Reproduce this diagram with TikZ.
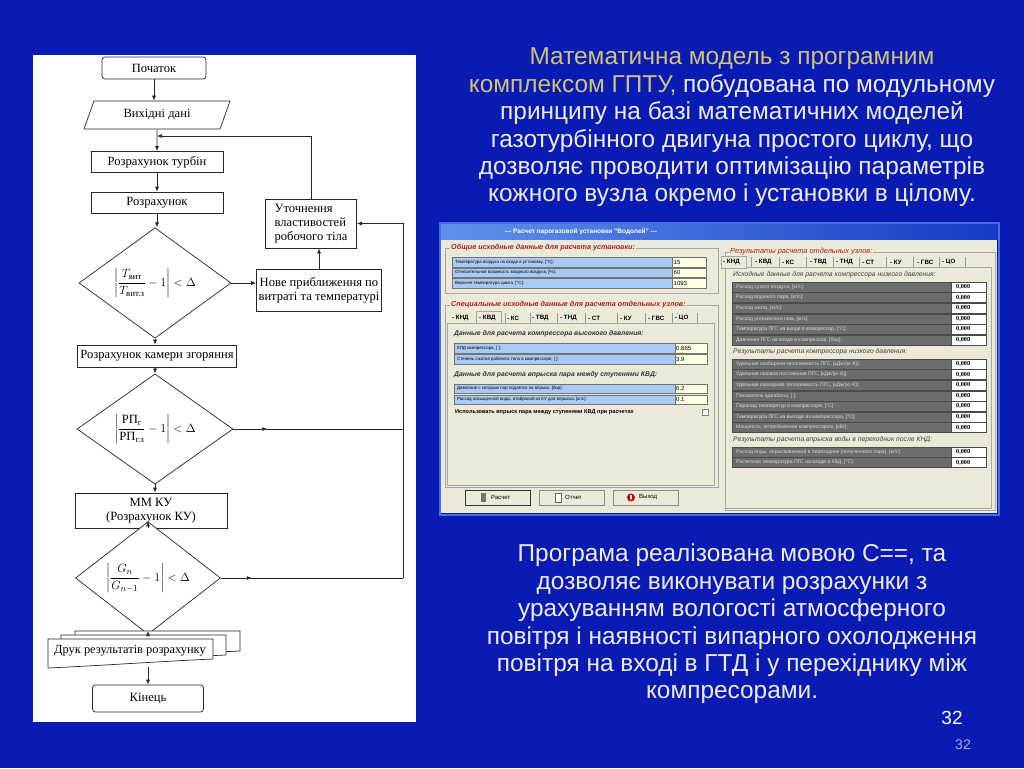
\documentclass[tikz,border=0pt]{standalone}
\usepackage{amsmath}
\usepackage{fontspec}
\setmainfont{Liberation Sans}
\newfontfamily\tms{Liberation Serif}
\usetikzlibrary{arrows.meta, shapes.geometric, calc, decorations.markings, positioning}

\definecolor{slidebg}{RGB}{9,27,179}
\definecolor{khaki}{RGB}{206,196,120}
\definecolor{txtgrey}{RGB}{236,236,236}
\definecolor{pgfoot}{RGB}{165,175,228}
\definecolor{winbeige}{RGB}{236,233,216}
\definecolor{winblueL}{RGB}{96,146,236}
\definecolor{winblueD}{RGB}{22,58,196}
\definecolor{winframe}{RGB}{70,110,222}
\definecolor{lblblue}{RGB}{168,202,245}
\definecolor{valyel}{RGB}{255,255,228}
\definecolor{rowgrey}{RGB}{108,108,108}
\definecolor{rowtxt}{RGB}{218,218,218}
\definecolor{capred}{RGB}{165,32,32}

\begin{document}
\begin{tikzpicture}[x=1pt, y=-1pt,
  >={Latex[length=5pt,width=4pt]},
  flow/.style={line width=0.7pt, draw=black!85},
  blk/.style={flow, fill=white, inner sep=2pt,
    font=\tms\fontsize{12.6}{13.8}\selectfont},
  term/.style={blk, rounded corners=3pt},
  io/.style={blk, trapezium, trapezium left angle=56, trapezium right angle=124,
    trapezium stretches body},
  dec/.style={blk, diamond, inner sep=0pt},
  midarr/.style={postaction={decorate, decoration={markings,
    mark=at position #1 with {\arrow{Latex[length=5pt,width=4pt]}}}}},
  slidetxt/.style={align=center, text=txtgrey, font=\fontsize{24.4}{27.4}\selectfont},
  grpline/.style={draw=black!35, line width=0.5pt},
  grptitle/.style={fill=winbeige, inner sep=1pt, anchor=west, text=capred,
    font=\bfseries\itshape\fontsize{7.2}{8}\selectfont},
  subttl/.style={inner sep=0pt, anchor=west, text=black!80,
    font=\bfseries\itshape\fontsize{6.8}{8}\selectfont},
  subttlr/.style={inner sep=0pt, anchor=west, text=black!75,
    font=\itshape\fontsize{6.8}{8}\selectfont},
  cellline/.style={draw=black!55, line width=0.4pt},
  celltxt/.style={inner sep=0pt, anchor=west, font=\fontsize{4.4}{5}\selectfont},
  valtxt/.style={inner sep=0pt, anchor=west, font=\fontsize{6}{7}\selectfont},
  rowlbl/.style={inner sep=0pt, anchor=west, text=rowtxt, font=\fontsize{5.1}{6}\selectfont},
  rowval/.style={inner sep=0pt, anchor=west, font=\tms\bfseries\fontsize{6.2}{7}\selectfont},
  tabtxt/.style={inner sep=0pt, anchor=west, font=\bfseries\fontsize{6.2}{7}\selectfont},
  btntxt/.style={inner sep=0pt, anchor=west, font=\fontsize{6}{7}\selectfont},
]
  % slide
  \fill[slidebg] (0,0) rectangle (1024,768);
  \useasboundingbox (0,0) rectangle (1024,768);
  \fill[white] (33,55) rectangle (416,722);

  % flowchart
  \node[term, minimum width=104, minimum height=22] (start) at (154,68) {Початок};
  \node[io, minimum width=146, minimum height=28] (input) at (157,115) {Вихідні дані};
  \node[blk, minimum width=132, minimum height=21] (turb) at (157,162) {Розрахунок турбін};
  \node[blk, minimum width=132, minimum height=21] (calc) at (157,202.5) {Розрахунок};
  \node[dec, minimum width=152, minimum height=83] (chkT) at (155,283)
    {$\left|\dfrac{T_{\text{вит}}}{T_{\text{вит.з}}}-1\right|<\Delta$};
  \node[blk, minimum width=91, minimum height=49, align=left] (refine) at (311,223.5)
    {Уточнення\\властивостей\\робочого тіла};
  \node[blk, minimum width=122, minimum height=42, align=center] (newappr) at (319,290)
    {Нове приближення по\\витраті та температурі};
  \node[blk, minimum width=159, minimum height=22] (comb) at (157,356) {Розрахунок камери згоряння};
  \node[dec, minimum width=156, minimum height=85] (chkP) at (155,429)
    {$\left|\dfrac{\text{РП}_{\text{г}}}{\text{РП}_{\text{г.з}}}-1\right|<\Delta$};
  \node[blk, minimum width=152, minimum height=35, align=center] (ku) at (151,510.5)
    {ММ КУ\\(Розрахунок КУ)};
  \node[dec, minimum width=145, minimum height=79] (chkG) at (148,578)
    {$\left|\dfrac{G_{n}}{G_{n-1}}-1\right|<\Delta$};

  % print: stacked documents
  \coordinate (printc) at (130,651);
  \foreach \dx/\dy in {27/-8, 13/-4, 0/0}
    \draw[flow, fill=white] ($(printc)+(\dx-82,\dy-12)$) -- ++(165,0) -- ++(0,20)
      .. controls +(-45,2) and +(45,-2) .. ($(printc)+(\dx-82,\dy+17)$) -- cycle;
  \node[font=\tms\fontsize{12.4}{13}\selectfont, inner sep=0pt] (print) at (printc) {Друк результатів розрахунку};
  \coordinate (printtop) at ($(printc)+(0,-20)$);
  \coordinate (printbot) at ($(printc)+(0,16)$);

  \node[term, minimum width=111, minimum height=27] (finish) at (148,698.5) {Кінець};

  % connectors
  \coordinate (merge) at (157,136);
  \coordinate (rail) at (403,0);
  \draw[flow, ->] (start) -- (start |- input.north);
  \draw[flow, ->] (input) -- (turb);
  \draw[flow, ->] (turb) -- (calc);
  \draw[flow, ->] (calc) -- (calc |- chkT.north);
  \draw[flow, ->] (chkT.east) -- (chkT.east -| newappr.west);
  \draw[flow, ->] (newappr.north) -- (newappr.north |- refine.south);
  \draw[flow, ->] (refine.north) |- (merge);
  \draw[flow, ->] (chkT.south) -- (chkT.south |- comb.north);
  \draw[flow, ->] (comb.south -| chkP.north) -- (chkP.north);
  \draw[flow, ->] (chkP.south) -- (chkP.south |- ku.north);
  \draw[flow, ->] (ku.south -| chkG.north) -- (chkG.north);
  \draw[flow, ->] (chkG.south) -- (chkG.south |- printtop);
  \draw[flow, ->] (finish.north |- printbot) -- (finish.north);
  \draw[flow, midarr=0.2] (chkP.east) -- (chkP.east -| rail);
  \draw[flow, midarr=0.17] (chkG.east) -- (chkG.east -| rail);
  \draw[flow, ->] (chkG.east -| rail) -- (refine.east -| rail) -- (refine.east);

  % slide text
  \node[slidetxt] (intro) at (732,127.5)
    {\textcolor{khaki}{Математична модель з програмним}\\
     \textcolor{khaki}{комплексом ГПТУ,} побудована по модульному\\
     принципу на базі математичних моделей\\
     газотурбінного двигуна простого циклу, що\\
     дозволяє проводити оптимізацію параметрів\\
     кожного вузла окремо і установки в цілому.};
  \node[slidetxt] (outro) at (732,624)
    {Програма реалізована мовою С==, та\\
     дозволяє виконувати розрахунки з\\
     урахуванням вологості атмосферного\\
     повітря і наявності випарного охолодження\\
     повітря на вході в ГТД і у перехіднику між\\
     компресорами.};
  \node[text=white, font=\fontsize{19}{20}\selectfont] (pgnum) at (952,718) {32};
  \node[text=pgfoot, font=\fontsize{14}{15}\selectfont] (pgnumb) at (963,745) {32};

  % program window
  \shade[left color=winblueL, right color=winblueD] (440,223) rectangle (999,240);
  \fill[winbeige] (440,240) rectangle (997,513);
  \draw[winframe, line width=1.4pt] (440,223) rectangle (999,515);
  \node[text=white, font=\bfseries\fontsize{6.5}{7}\selectfont] (dlgtitle) at (581,231.5)
    {-{}-{}- Расчет парогазовой установки "Водолей" -{}-{}-};

  % left: general data
  \draw[grpline] (445,248) rectangle (718,293);
  \node[grptitle] (g1title) at (450,248) {Общие исходные данные для расчета установки:};
  \foreach \y/\lbl/\val [count=\i] in {262/{Температура воздуха на входе в установку, [°C]:}/15,
      272.5/{Относительная влажность входного воздуха, [\%]:}/60,
      283/{Верхняя температура цикла, [°C]:}/1093}{
    \draw[cellline, fill=lblblue] (452,\y-4.7) rectangle (672,\y+4.7);
    \draw[cellline, fill=valyel] (672,\y-4.7) rectangle (706,\y+4.7);
    \node[celltxt] (ga\i) at (455,\y) {\lbl};
    \node[valtxt] (gav\i) at (673.5,\y) {\val};
  }

  % left: special data
  \draw[grpline] (445,305) rectangle (718,487);
  \node[grptitle] (g2title) at (450,305) {Специальные исходные данные для расчета отдельных узлов:};
  \draw[grpline, fill=winbeige] (447,323) rectangle (714,485);
  \draw[grpline, fill=winbeige] (476,311) rectangle (501,323.5);
  \foreach \x/\t in {452/КНД, 479/КВД, 507/КС, 532/ТВД, 560/ТНД, 588/СТ, 620/КУ, 648/ГВС, 675/ЦО}{
    \node[tabtxt] (lt\t) at (\x,318) {- \t};
  }
  \foreach \x in {505, 530, 557, 585, 617, 645, 672, 697}
    \draw[black!40] (\x,313) -- (\x,323);
  \node[subttl] (kvdsub) at (454,333.5) {Данные для расчета компрессора высокого давления:};
  \node[subttl] (injsub) at (454,375) {Данные для расчета впрыска пара между ступенями КВД:};
  \foreach \y/\lbl/\val [count=\i] in {348/{КПД компрессора, [ ]:}/0.865,
      359/{Степень сжатия рабочего тела в компрессоре, [ ]:}/3.9,
      388.5/{Давление с которым пар подается на впрыск, [бар]:}/6.2,
      399.5/{Расход насыщенной воды, отобраной из КУ для впрыска, [кг/с]:}/0.1}{
    \draw[cellline, fill=lblblue] (454,\y-4.7) rectangle (675,\y+4.7);
    \draw[cellline, fill=valyel] (675,\y-4.7) rectangle (707,\y+4.7);
    \node[celltxt] (gb\i) at (457,\y) {\lbl};
    \node[valtxt] (gbv\i) at (676,\y) {\val};
  }
  \node[inner sep=0pt, anchor=west, font=\bfseries\fontsize{5.6}{6}\selectfont] (usechk) at (455,412)
    {Использовать впрыск пара между ступенями КВД при расчетах};
  \draw[black!50, fill=white] (702,409) rectangle (708,415);

  % buttons
  \foreach \x/\t/\k in {465/Расчет/calc, 539/Отчет/rep, 613/Выход/quit}{
    \draw[black!45, fill=winbeige] (\x,490) rectangle (\x+65,505);
    \node[btntxt] (btn\k) at (\x+26,497.5) {\t};
  }
  \draw[black!80, line width=0.8pt] (465,490) rectangle (530,505);
  \fill[black!55] (481,493) rectangle (486,502);
  \draw[black!60, fill=white] (555,493) rectangle (561,502);
  \fill[red!80!black] (631,497.5) circle (4);
  \fill[white] (630.4,494.5) rectangle (631.6,498.5);
  \fill[white] (631,500) circle (0.7);

  % right: results
  \draw[grpline] (725,252) rectangle (995,510);
  \node[grptitle, font=\itshape\fontsize{7.4}{8}\selectfont] (g3title) at (729,251.5)
    {Результаты расчета отдельных узлов:};
  \draw[grpline, fill=winbeige] (725,267.5) rectangle (991,508);
  \draw[grpline, fill=winbeige] (721,256) rectangle (746,268);
  \foreach \x/\t in {723/КНД, 755/КВД, 782/КС, 810/ТВД, 836/ТНД, 862/СТ, 890/КУ, 917/ГВС, 942/ЦО}{
    \node[tabtxt] (rt\t) at (\x,262) {- \t};
  }
  \foreach \x in {751, 779, 806, 833, 859, 886, 913, 939, 965}
    \draw[black!40] (\x,257) -- (\x,267);

  \node[subttlr] (lpsub) at (733,275) {Исходные данные для расчета компрессора низкого давления:};
  \node[subttlr] (lpres) at (733,352) {Результаты расчета компрессора низкого давления:};
  \node[subttlr] (injres) at (733,440) {Результаты расчета впрыска воды в переходник после КНД:};

  \foreach \lbl [count=\i] in {{Расход сухого воздуха, [кг/с]:}, {Расход водяного пара, [кг/с]:},
      {Расход азота, [кг/с]:}, {Расход углекислого газа, [кг/с]:},
      {Температура ПГС на входе в компрессор, [°C]:}, {Давление ПГС на входе в компрессор, [бар]:}}{
    \pgfmathsetmacro\y{287+10.6*(\i-1)}
    \draw[black!70, fill=rowgrey] (732,\y-5) rectangle (951,\y+5);
    \draw[black!70, fill=white] (951,\y-5) rectangle (986,\y+5);
    \node[rowlbl] (ra\i) at (736,\y) {\lbl};
    \node[rowval] (rav\i) at (956,\y) {0,000};
  }
  \foreach \lbl [count=\i] in {{Удельная изобарная теплоемкость ПГС, [кДж/(кг·К)]:},
      {Удельная газовая постоянная ПГС, [кДж/(кг·К)]:},
      {Удельная изохорная теплоемкость ПГС, [кДж/(кг·К)]:}, {Показатель адиабаты, [ ]:},
      {Перепад температур в компрессоре, [°C]:}, {Температура ПГС на выходе из компрессора, [°C]:},
      {Мощность, потребляемая компрессором, [кВт]:}}{
    \pgfmathsetmacro\y{364+10.6*(\i-1)}
    \draw[black!70, fill=rowgrey] (732,\y-5) rectangle (951,\y+5);
    \draw[black!70, fill=white] (951,\y-5) rectangle (986,\y+5);
    \node[rowlbl] (rb\i) at (736,\y) {\lbl};
    \node[rowval] (rbv\i) at (956,\y) {0,000};
  }
  \foreach \lbl [count=\i] in {{Расход воды, впрыскиваемой в переходник (полученного пара), [кг/с]:},
      {Расчетная температура ПГС на входе в КВД, [°C]:}}{
    \pgfmathsetmacro\y{452+10.6*(\i-1)}
    \draw[black!70, fill=rowgrey] (732,\y-5) rectangle (951,\y+5);
    \draw[black!70, fill=white] (951,\y-5) rectangle (986,\y+5);
    \node[rowlbl] (rc\i) at (736,\y) {\lbl};
    \node[rowval] (rcv\i) at (956,\y) {0,000};
  }
\end{tikzpicture}
\end{document}
